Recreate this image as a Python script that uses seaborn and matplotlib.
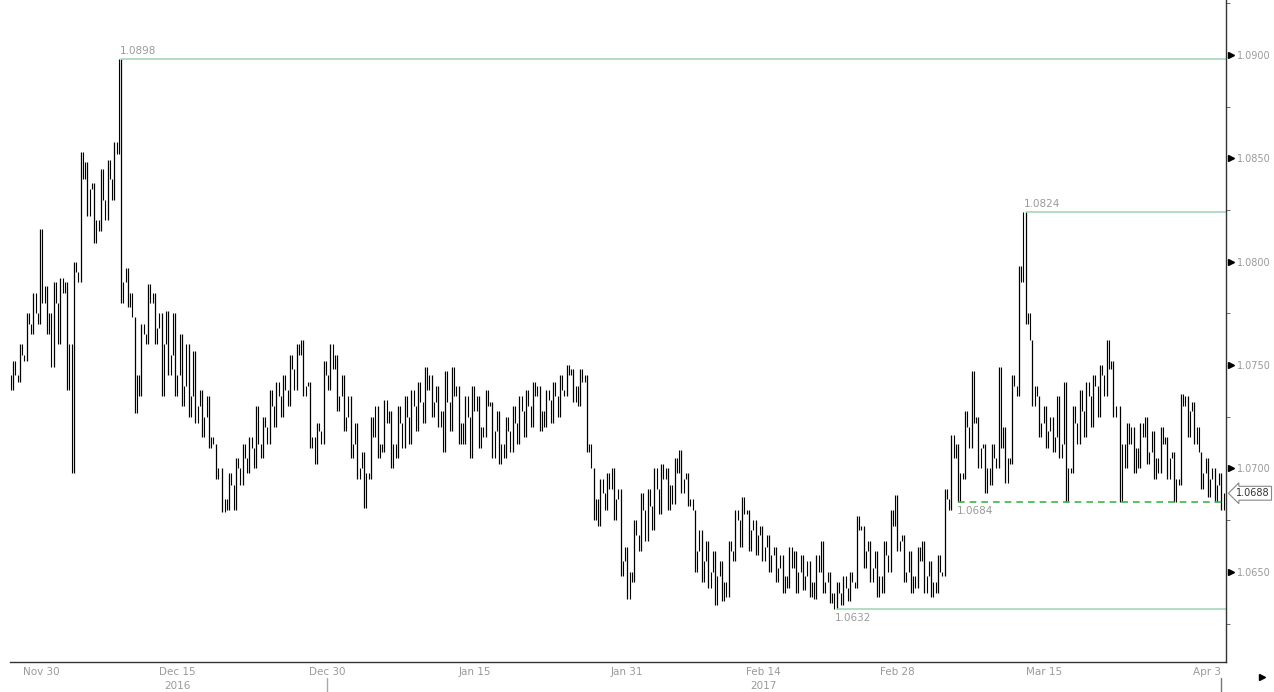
import numpy as np
import pandas as pd
import matplotlib
matplotlib.use("Agg")
import matplotlib.pyplot as plt
import matplotlib.transforms as mtransforms
import seaborn as sns

# half-day bars (high / low / close)
highs = [
    1.0752, 1.0760, 1.0775, 1.0785, 1.0816, 1.0788, 1.0790, 1.0792, 1.0790, 1.0800,
    1.0853, 1.0848, 1.0838, 1.0845, 1.0849, 1.0858, 1.0898, 1.0797, 1.0773, 1.0770,
    1.0789, 1.0785, 1.0775, 1.0776, 1.0775, 1.0765, 1.0760, 1.0757, 1.0738, 1.0735,
    1.0712, 1.0700, 1.0698, 1.0705, 1.0712, 1.0715, 1.0730, 1.0725, 1.0738, 1.0742,
    1.0745, 1.0755, 1.0760, 1.0762, 1.0742, 1.0722, 1.0752, 1.0760, 1.0755, 1.0745,
    1.0735, 1.0722, 1.0708, 1.0725, 1.0730, 1.0733, 1.0728, 1.0730, 1.0735, 1.0738,
    1.0742, 1.0749, 1.0745, 1.0740, 1.0747, 1.0749, 1.0740, 1.0735, 1.0740, 1.0735,
    1.0738, 1.0732, 1.0728, 1.0725, 1.0730, 1.0735, 1.0738, 1.0742, 1.0740, 1.0738,
    1.0742, 1.0745, 1.0750, 1.0748, 1.0748, 1.0745, 1.0700, 1.0695, 1.0698, 1.0700,
    1.0690, 1.0662, 1.0675, 1.0688, 1.0690, 1.0700, 1.0702, 1.0700, 1.0705, 1.0709,
    1.0698, 1.0680, 1.0670, 1.0665, 1.0660, 1.0655, 1.0665, 1.0680, 1.0686, 1.0680,
    1.0675, 1.0672, 1.0668, 1.0662, 1.0658, 1.0662, 1.0660, 1.0658, 1.0655, 1.0658,
    1.0665, 1.0650, 1.0645, 1.0648, 1.0650, 1.0677, 1.0672, 1.0665, 1.0660, 1.0665,
    1.0680, 1.0687, 1.0668, 1.0660, 1.0662, 1.0665, 1.0655, 1.0658, 1.0690, 1.0716,
    1.0712, 1.0728, 1.0747, 1.0725, 1.0712, 1.0712, 1.0749, 1.0720, 1.0745, 1.0798,
    1.0824, 1.0762, 1.0735, 1.0730, 1.0725, 1.0735, 1.0742, 1.0730, 1.0738, 1.0742,
    1.0745, 1.0750, 1.0762, 1.0752, 1.0730, 1.0722, 1.0720, 1.0722, 1.0725, 1.0718,
    1.0720, 1.0715, 1.0708, 1.0736, 1.0735, 1.0732, 1.0708, 1.0705, 1.0700, 1.0698,
]
lows = [
    1.0738, 1.0742, 1.0752, 1.0765, 1.0770, 1.0765, 1.0749, 1.0760, 1.0738, 1.0698,
    1.0790, 1.0822, 1.0809, 1.0815, 1.0820, 1.0830, 1.0780, 1.0778, 1.0727, 1.0735,
    1.0760, 1.0760, 1.0735, 1.0745, 1.0735, 1.0730, 1.0725, 1.0722, 1.0715, 1.0710,
    1.0695, 1.0679, 1.0680, 1.0680, 1.0692, 1.0698, 1.0700, 1.0705, 1.0712, 1.0720,
    1.0725, 1.0730, 1.0738, 1.0735, 1.0710, 1.0702, 1.0712, 1.0738, 1.0728, 1.0718,
    1.0705, 1.0695, 1.0681, 1.0695, 1.0705, 1.0708, 1.0700, 1.0705, 1.0710, 1.0712,
    1.0718, 1.0722, 1.0725, 1.0720, 1.0708, 1.0718, 1.0712, 1.0712, 1.0705, 1.0710,
    1.0715, 1.0705, 1.0702, 1.0705, 1.0708, 1.0712, 1.0715, 1.0720, 1.0718, 1.0720,
    1.0722, 1.0725, 1.0735, 1.0732, 1.0730, 1.0708, 1.0675, 1.0672, 1.0680, 1.0675,
    1.0648, 1.0637, 1.0645, 1.0660, 1.0665, 1.0670, 1.0678, 1.0680, 1.0683, 1.0688,
    1.0682, 1.0650, 1.0645, 1.0642, 1.0634, 1.0636, 1.0638, 1.0655, 1.0662, 1.0660,
    1.0658, 1.0655, 1.0650, 1.0645, 1.0640, 1.0642, 1.0640, 1.0641, 1.0638, 1.0637,
    1.0640, 1.0635, 1.0632, 1.0634, 1.0636, 1.0642, 1.0652, 1.0645, 1.0638, 1.0640,
    1.0650, 1.0660, 1.0645, 1.0640, 1.0642, 1.0640, 1.0638, 1.0640, 1.0648, 1.0680,
    1.0684, 1.0695, 1.0710, 1.0700, 1.0688, 1.0692, 1.0700, 1.0693, 1.0702, 1.0735,
    1.0770, 1.0730, 1.0715, 1.0710, 1.0708, 1.0705, 1.0684, 1.0698, 1.0712, 1.0715,
    1.0720, 1.0725, 1.0735, 1.0725, 1.0684, 1.0700, 1.0698, 1.0700, 1.0702, 1.0695,
    1.0698, 1.0695, 1.0684, 1.0692, 1.0715, 1.0712, 1.0690, 1.0686, 1.0684, 1.0680,
]
closes = [
    1.0745, 1.0755, 1.0770, 1.0775, 1.0780, 1.0775, 1.0780, 1.0785, 1.0760, 1.0795,
    1.0840, 1.0835, 1.0820, 1.0830, 1.0840, 1.0852, 1.0790, 1.0785, 1.0745, 1.0765,
    1.0780, 1.0768, 1.0760, 1.0755, 1.0745, 1.0740, 1.0735, 1.0730, 1.0725, 1.0715,
    1.0700, 1.0685, 1.0692, 1.0700, 1.0705, 1.0710, 1.0712, 1.0720, 1.0730, 1.0735,
    1.0738, 1.0748, 1.0755, 1.0740, 1.0715, 1.0718, 1.0745, 1.0748, 1.0735, 1.0725,
    1.0712, 1.0700, 1.0698, 1.0715, 1.0712, 1.0722, 1.0712, 1.0722, 1.0725, 1.0730,
    1.0732, 1.0738, 1.0732, 1.0728, 1.0732, 1.0735, 1.0722, 1.0725, 1.0728, 1.0720,
    1.0730, 1.0718, 1.0712, 1.0718, 1.0722, 1.0728, 1.0730, 1.0735, 1.0728, 1.0733,
    1.0735, 1.0738, 1.0745, 1.0740, 1.0742, 1.0712, 1.0685, 1.0688, 1.0690, 1.0685,
    1.0655, 1.0650, 1.0668, 1.0680, 1.0682, 1.0690, 1.0695, 1.0692, 1.0698, 1.0695,
    1.0685, 1.0660, 1.0655, 1.0650, 1.0648, 1.0645, 1.0660, 1.0675, 1.0678, 1.0670,
    1.0668, 1.0662, 1.0658, 1.0652, 1.0648, 1.0652, 1.0650, 1.0648, 1.0645, 1.0650,
    1.0645, 1.0640, 1.0640, 1.0642, 1.0645, 1.0670, 1.0660, 1.0652, 1.0648, 1.0658,
    1.0672, 1.0665, 1.0650, 1.0648, 1.0655, 1.0648, 1.0645, 1.0650, 1.0685, 1.0705,
    1.0698, 1.0720, 1.0722, 1.0710, 1.0700, 1.0705, 1.0710, 1.0705, 1.0740, 1.0790,
    1.0775, 1.0740, 1.0722, 1.0718, 1.0715, 1.0712, 1.0700, 1.0722, 1.0728, 1.0735,
    1.0740, 1.0745, 1.0748, 1.0730, 1.0712, 1.0712, 1.0710, 1.0715, 1.0708, 1.0705,
    1.0712, 1.0705, 1.0695, 1.0730, 1.0728, 1.0720, 1.0698, 1.0695, 1.0692, 1.0688,
]
first_open = 1.0745

date_labels = ["Nov 30", "Dec 15", "Dec 30", "Jan 15", "Jan 31", "Feb 14", "Feb 28", "Mar 15", "Apr 3"]
date_ticks = [2.4, 24.4, 46.5, 68.4, 91.0, 111.1, 131.0, 152.7, 176.9]
minor_ticks = [14.4, 36.3, 58.4, 78.7, 100.9, 121.0, 143.0, 164.9]
year_labels = ["2016", "2017"]
year_label_pos = [24.4, 111.1]
year_break = 46.5

price_ticks = [1.0650, 1.0700, 1.0750, 1.0800, 1.0850, 1.0900]
price_minor = [1.0625, 1.0675, 1.0725, 1.0775, 1.0825, 1.0875, 1.0925]
support_level = 1.0684

df = pd.DataFrame({"bar": np.arange(len(closes)), "high": highs, "low": lows, "close": closes})
df["open"] = df["close"].shift(1).fillna(first_open)
n = len(df)

sns.set_style("white")
plt.rcParams["font.family"] = ["DejaVu Sans"]

W, H = 1274, 692
fig = plt.figure(figsize=(W / 100, H / 100), dpi=100)
ax = fig.add_axes([10 / W, 30 / H, 1216 / W, 662 / H])

# each half-day bar drawn as three strokes (open leg, full range, close leg)
# so the chart keeps the dense look of the hourly original
up = df["close"] >= df["open"]
first_lo = np.where(up, df["low"], df["open"])
first_hi = np.where(up, df["open"], df["high"])
last_lo = np.where(up, df["close"], df["low"])
last_hi = np.where(up, df["high"], df["close"])
ax.vlines(df["bar"] - 0.33, first_lo, first_hi, color="black", lw=0.8)
ax.vlines(df["bar"], df["low"], df["high"], color="black", lw=0.9)
ax.vlines(df["bar"] + 0.33, last_lo, last_hi, color="black", lw=0.8)

ax.set_xlim(-0.45, 179.7)
ax.set_ylim(1.06064, 1.09265)

# key levels
hi_idx = int(df["high"].idxmax())
lo_idx = int(df["low"].idxmin())
late = df.iloc[130:]
hi2_idx = int(late["high"].idxmax())
sup_idx = int(late.index[(late["low"] - support_level).abs() < 0.00005][0])

lab_kw = dict(fontsize=7.5, color="#9a9a9a")
for idx, val, above in [(hi_idx, df["high"][hi_idx], True),
                        (hi2_idx, df["high"][hi2_idx], True),
                        (lo_idx, df["low"][lo_idx], False)]:
    sns.lineplot(x=[idx, 180], y=[val, val], color="#9ed3b4", lw=1.1, ax=ax)
    ax.annotate(f"{val:.4f}", (idx, val), xytext=(-1, 2 if above else -3),
                textcoords="offset points", ha="left",
                va="bottom" if above else "top", **lab_kw)

sns.lineplot(x=[sup_idx, 180], y=[support_level, support_level], color="#3cb64a",
             lw=1.2, ax=ax, linestyle=(0, (4, 3)))
ax.annotate(f"{support_level:.4f}", (sup_idx, support_level), xytext=(-1, -3),
            textcoords="offset points", ha="left", va="top", **lab_kw)

# spines
for s in ["left", "top"]:
    ax.spines[s].set_visible(False)
for s in ["right", "bottom"]:
    ax.spines[s].set_color("#333333")
    ax.spines[s].set_linewidth(1.0)

# right price axis
ax.yaxis.tick_right()
ax.set_yticks(price_ticks)
ax.set_yticklabels([f"{p:.4f}" for p in price_ticks])
ax.set_yticks(price_minor, minor=True)
ax.tick_params(axis="y", which="major", length=0, pad=8, labelsize=7, labelcolor="#9a9a9a")
ax.tick_params(axis="y", which="minor", length=3, color="#555555", direction="out")
ax.plot([1.004] * len(price_ticks), price_ticks, ls="none", marker=">", ms=4.5,
        color="black", transform=ax.get_yaxis_transform(), clip_on=False)

# bottom date axis
ax.set_xticks(date_ticks)
ax.set_xticklabels(date_labels)
ax.set_xticks(minor_ticks, minor=True)
ax.tick_params(axis="x", which="both", direction="inout", length=5, color="#555555",
               labelsize=7.5, labelcolor="#9a9a9a", pad=1)
first_lab = ax.get_xticklabels()[0]
first_lab.set_horizontalalignment("left")
first_lab.set_transform(first_lab.get_transform() +
                        mtransforms.ScaledTranslation(-0.06, 0, fig.dpi_scale_trans))
for pos, lab in zip(year_label_pos, year_labels):
    ax.text(pos, -0.036, lab, transform=ax.get_xaxis_transform(), ha="center",
            va="center", **lab_kw)
ax.plot([year_break, year_break], [-0.024, -0.05], color="#aaaaaa", lw=1,
        transform=ax.get_xaxis_transform(), clip_on=False)
ax.plot([n - 1, n - 1], [-0.024, -0.05], color="#777777", lw=1,
        transform=ax.get_xaxis_transform(), clip_on=False)
ax.plot([1.0296], [-0.0227], marker=">", ms=4, color="black", transform=ax.transAxes,
        clip_on=False)

# last price tag
ax.text(1.022, df["close"].iloc[-1], f"{df['close'].iloc[-1]:.4f}",
        transform=ax.get_yaxis_transform(), ha="center", va="center", fontsize=7,
        color="#333333", bbox=dict(boxstyle="larrow,pad=0.2", fc="white", ec="#888888", lw=0.8))

ax.set_xlabel("")
ax.set_ylabel("")
fig.savefig("out.png", dpi=100)
